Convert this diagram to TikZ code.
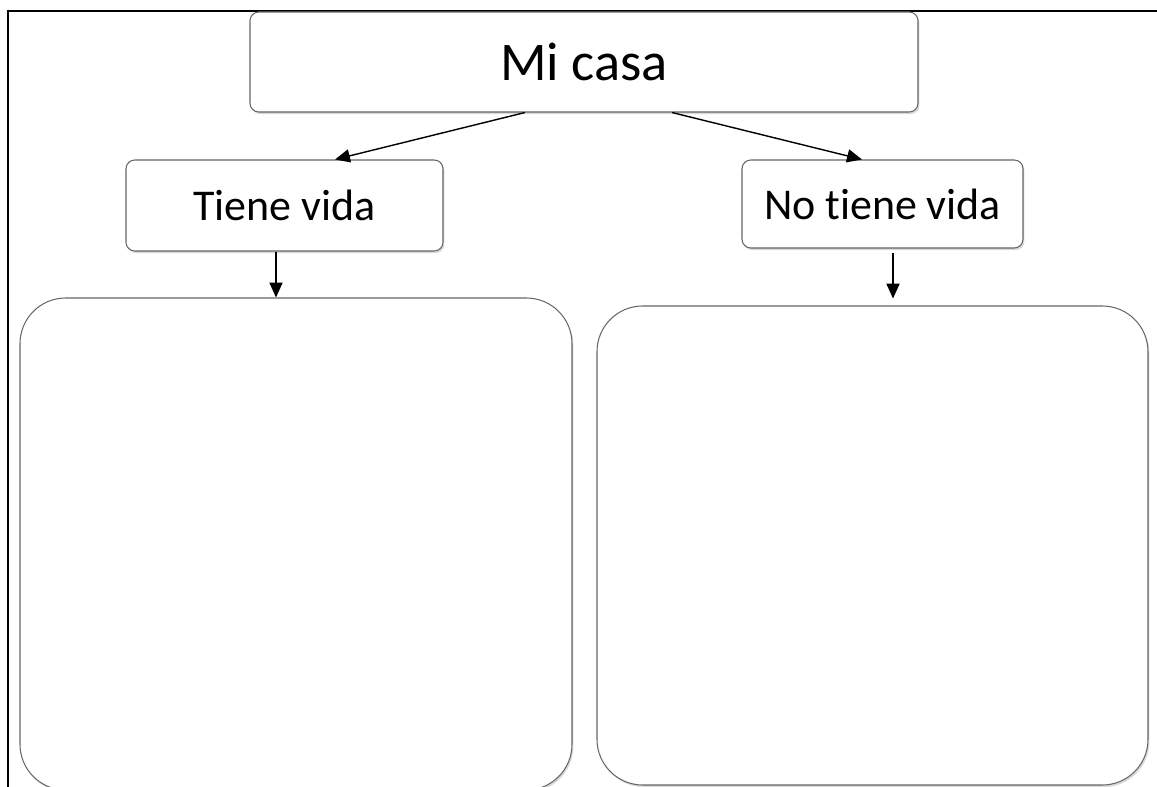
\documentclass[tikz,border=0pt]{standalone}
\usepackage{fontspec}
\setmainfont{Carlito}[Ligatures=NoCommon]
\usetikzlibrary{calc,arrows.meta,shadows}

\begin{document}
\begin{tikzpicture}[x=0.02cm, y=-0.02cm,
		cajita/.style={draw=black!60, line width=0.6pt, fill=white, rounded corners=5pt,
			drop shadow={shadow xshift=0.8pt, shadow yshift=-1.2pt, opacity=0.3}, inner sep=0pt},
		cajon/.style={cajita, rounded corners=26pt},
		flecha/.style={line width=0.8pt, -{Triangle[length=8.5pt, width=7.5pt]}}]
			%%%%% START %%%%%
			
			\useasboundingbox (0, 0) rectangle (1157, 787);
			\draw[line width=1.2pt] (1157, 11) -- (8, 11) -- (8, 790);
			
			\node[cajita, minimum width=668*0.02cm, minimum height=100*0.02cm, font=\fontsize{31}{36}\selectfont] (casa) at (584, 62) {Mi casa};
			
			\node[cajita, minimum width=317*0.02cm, minimum height=91*0.02cm, font=\fontsize{25}{30}\selectfont] (vida) at (284.5, 205.5) {Tiene vida};
			\node[cajita, minimum width=281*0.02cm, minimum height=88*0.02cm, font=\fontsize{25}{30}\selectfont] (novida) at (882.5, 204) {No tiene vida};
			
			\node[cajon, minimum width=552*0.02cm, minimum height=492*0.02cm] (izq) at (296, 544) {};
			\node[cajon, minimum width=551*0.02cm, minimum height=479*0.02cm] (der) at (872.5, 545.5) {};
			
			\draw[flecha] ($(casa.south)+(-59, 0)$) -- ($(vida.north)+(50.5, 0)$);
			\draw[flecha] ($(casa.south)+(88, 0)$) -- ($(novida.north)+(-20.5, 0)$);
			
			\draw[flecha] ($(vida.south)+(-8.5, 0)$) -- ($(izq.north)+(-20, 0)$);
			\draw[flecha] ($(novida.south)+(10.5, 4)$) -- ($(der.north)+(20.5, -7)$);
			
			%%%%% END %%%%%
\end{tikzpicture}
\end{document}
